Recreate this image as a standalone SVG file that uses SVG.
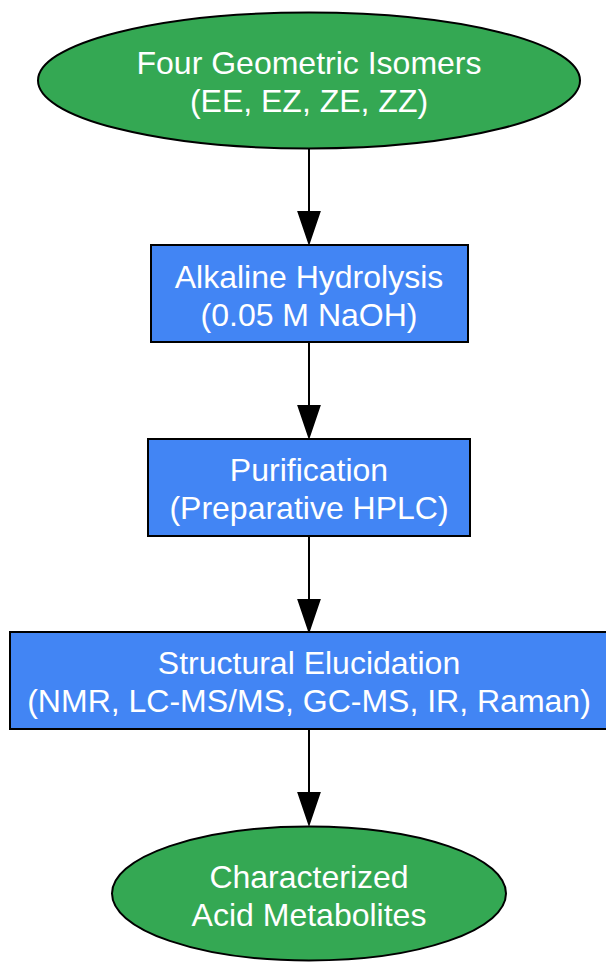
<svg xmlns="http://www.w3.org/2000/svg" width="606" height="962" viewBox="0 0 606 962">
<defs>
<style>
.n{stroke:#000;stroke-width:2}
.g{fill:#34A853}
.b{fill:#4285F4}
text{font-family:"Liberation Sans",Arial,sans-serif;font-size:32px;fill:#fff;text-anchor:middle}
.e{stroke:#000;stroke-width:2;fill:none}
.h{fill:#000;stroke:#000;stroke-width:2}
</style>
</defs>
<rect width="606" height="962" fill="#fff"/>
<g id="edges">
<line class="e" x1="309" y1="149" x2="309" y2="212"/>
<path class="h" d="M298.5,212 L319.5,212 L309,243 z"/>
<line class="e" x1="309" y1="342" x2="309" y2="406"/>
<path class="h" d="M298.5,406 L319.5,406 L309,437 z"/>
<line class="e" x1="309" y1="536" x2="309" y2="600"/>
<path class="h" d="M298.5,600 L319.5,600 L309,631 z"/>
<line class="e" x1="309" y1="729" x2="309" y2="793"/>
<path class="h" d="M298.5,793 L319.5,793 L309,824 z"/>
</g>
<g id="isomers">
<ellipse class="n g" cx="309" cy="80.5" rx="271" ry="68"/>
<text x="309" y="73.5">Four Geometric Isomers</text>
<text x="309" y="111.5">(EE, EZ, ZE, ZZ)</text>
</g>
<g id="hydrolysis">
<rect class="n b" x="151" y="245" width="317" height="97"/>
<text x="309" y="287.5">Alkaline Hydrolysis</text>
<text x="309" y="325.5">(0.05 M NaOH)</text>
</g>
<g id="purification">
<rect class="n b" x="148" y="439" width="322" height="97"/>
<text x="309" y="480.5">Purification</text>
<text x="309" y="518.5">(Preparative HPLC)</text>
</g>
<g id="elucidation">
<rect class="n b" x="10" y="632" width="598" height="97"/>
<text x="309" y="673.5">Structural Elucidation</text>
<text x="309" y="711.5">(NMR, LC-MS/MS, GC-MS, IR, Raman)</text>
</g>
<g id="metabolites">
<ellipse class="n g" cx="309" cy="893.5" rx="197" ry="67"/>
<text x="309" y="887.5">Characterized</text>
<text x="309" y="925.5">Acid Metabolites</text>
</g>
</svg>
